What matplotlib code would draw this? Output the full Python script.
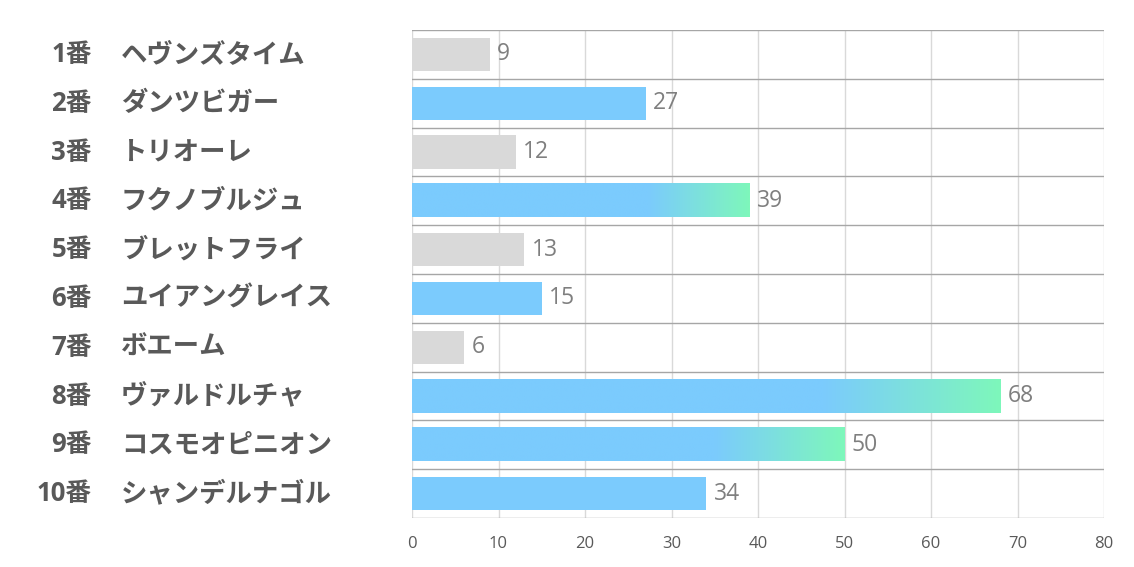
import matplotlib
matplotlib.use("Agg")
import matplotlib.pyplot as plt
import matplotlib.transforms as mtransforms
from matplotlib.colors import LinearSegmentedColormap
import numpy as np

plt.rcParams["font.family"] = ["Noto Sans CJK JP", "DejaVu Sans"]
LATIN = ["Open Sans", "Noto Sans CJK JP", "DejaVu Sans"]

numbers = ["1番", "2番", "3番", "4番", "5番", "6番", "7番", "8番", "9番", "10番"]
names = ["ヘヴンズタイム", "ダンツビガー", "トリオーレ", "フクノブルジュ", "ブレットフライ",
         "ユイアングレイス", "ボエーム", "ヴァルドルチャ", "コスモオピニオン", "シャンデルナゴル"]
values = [9, 27, 12, 39, 13, 15, 6, 68, 50, 34]
highlight = [False, True, False, True, False, True, False, True, True, True]
gradient = [False, False, False, True, False, False, False, True, True, False]

GRAY = "#d9d9d9"
BLUE = "#7bcbfd"
GREEN = "#7ef7bb"

fig = plt.figure(figsize=(11.34, 5.67), dpi=100)
ax = fig.add_axes([412 / 1134, 1 - 518 / 567, 692 / 1134, 488 / 567])

y = np.arange(len(values))
colors = [BLUE if h else GRAY for h in highlight]
bars = ax.barh(y, values, height=0.68, color=colors, zorder=2)

# blue -> green fade over the tail of the top bars
cmap = LinearSegmentedColormap.from_list("fade", [(0, BLUE), (0.7, BLUE), (1, GREEN)])
grad = np.linspace(0, 1, 256).reshape(1, -1)
for b, g in zip(bars, gradient):
    if g:
        x0, y0 = b.get_x(), b.get_y()
        ax.imshow(grad, cmap=cmap, aspect="auto", zorder=3,
                  extent=[x0, x0 + b.get_width(), y0 + b.get_height(), y0])

for b, v in zip(bars, values):
    ax.text(v + 0.85, b.get_y() + b.get_height() / 2, str(v), va="center", ha="left",
            fontsize=16.5, color="#7f7f7f", family=LATIN, zorder=4)

ax.set_xlim(0, 80)
ax.set_ylim(len(values) - 0.5, -0.5)
ax.set_xticks(np.arange(0, 81, 10))
ax.set_yticks([])
ax.tick_params(axis="x", length=0, labelsize=12, labelcolor="#595959", pad=13)
for lab in ax.get_xticklabels():
    lab.set_family(LATIN)
for s in ax.spines.values():
    s.set_visible(False)

for xv in np.arange(0, 81, 10):
    ax.axvline(xv, color="#d9d9d9", lw=1, zorder=1)
for yv in np.arange(-0.5, len(values), 1):
    ax.axhline(yv, color="#a6a6a6", lw=1, zorder=1)

tr = mtransforms.blended_transform_factory(fig.transFigure, ax.transData)
for i, (n, nm) in enumerate(zip(numbers, names)):
    ax.text(92 / 1134, i, n, transform=tr, ha="right", va="center", family=LATIN,
            fontsize=18.5, fontweight="bold", color="#595959")
    ax.text(121 / 1134, i, nm, transform=tr, ha="left", va="center",
            fontsize=19, fontweight="bold", color="#595959")

fig.savefig("out.png", dpi=100)
